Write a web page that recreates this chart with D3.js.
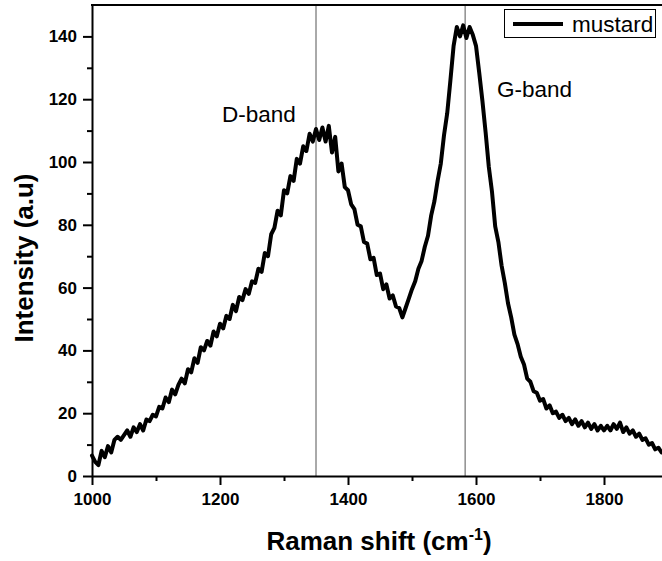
<!DOCTYPE html>
<html>
<head>
<meta charset="utf-8">
<script src="https://cdn.jsdelivr.net/npm/d3@7"></script>
<style>
  html, body { margin: 0; padding: 0; background: #fff; }
  svg { display: block; font-family: "Liberation Sans", Arial, sans-serif; }
</style>
</head>
<body>
<svg id="chart" width="662" height="561"></svg>
<script>
const ramanShift = [
  1000,1005,1010,1015,1020,1025,1030,1035,1040,1045,
  1050,1055,1060,1065,1070,1075,1080,1085,1090,1095,
  1100,1105,1110,1115,1120,1125,1130,1135,1140,1145,
  1150,1155,1160,1165,1170,1175,1180,1185,1190,1195,
  1200,1205,1210,1215,1220,1225,1230,1235,1240,1245,
  1250,1255,1260,1265,1270,1275,1280,1285,1290,1295,
  1300,1305,1310,1315,1320,1325,1330,1335,1340,1345,
  1350,1355,1360,1365,1370,1375,1380,1385,1390,1395,
  1400,1405,1410,1415,1420,1425,1430,1435,1440,1445,
  1450,1455,1460,1465,1470,1475,1480,1485,1490,1495,
  1500,1505,1510,1515,1520,1525,1530,1535,1540,1545,
  1550,1555,1560,1565,1570,1575,1580,1585,1590,1595,
  1600,1605,1610,1615,1620,1625,1630,1635,1640,1645,
  1650,1655,1660,1665,1670,1675,1680,1685,1690,1695,
  1700,1705,1710,1715,1720,1725,1730,1735,1740,1745,
  1750,1755,1760,1765,1770,1775,1780,1785,1790,1795,
  1800,1805,1810,1815,1820,1825,1830,1835,1840,1845,
  1850,1855,1860,1865,1870,1875,1880,1885,1890
];
const intensity = [
  6.5,4.5,3.5,8,6,9.5,7.5,11.5,12.5,11.5,
  13,14.5,12.5,15.5,14,16.5,14.5,18,17.5,19.5,
  19,22,21.5,25,23.5,27.5,26,29,31,29.5,
  34,33,37.5,36,41,40,43,41.5,46,44.5,
  48.5,47,51,50,54.5,52.5,57,56,59.5,58,
  62,61.5,66,65,71,70,77,79,84.5,83,
  91,90,95.5,94,101,99.5,105,103.5,109,106.5,
  110.5,107,111,106.5,111.5,103,108,97,99.5,92,
  91,86.5,85,80,79.5,74.5,74,69,69.5,64,
  64.5,59.5,61,56.5,57.5,54,53.5,50.5,53.5,56.5,
  59.5,62,66,68.5,73,76.5,83,87.5,94,99.5,
  108.5,115.5,126,137,143,140,143.5,139.5,143,140.5,
  137,128.5,119.5,109.5,98.5,90.5,79.5,74.5,67,61.5,
  55,50.5,45,42,38,35.5,31,30,27,26.5,
  24,24.5,21.5,22.5,20,20.5,18.5,19.5,17.5,18.5,
  16.5,18,16,17.5,15.5,17,15,16.5,14.5,16,
  14.5,16,14.5,16.5,15,17,14,15.5,13.5,14.5,
  12.5,13.5,11.5,12,10,10.5,8.5,9,7.5
];
const seriesName = "mustard";
const xMajorTicks = [1000, 1200, 1400, 1600, 1800];
const xMinorTicks = [1100, 1300, 1500, 1700];
const yMajorTicks = [0, 20, 40, 60, 80, 100, 120, 140];
const yMinorTicks = [10, 30, 50, 70, 90, 110, 130];
const bandPositions = [1350, 1583];
const bandLabels = ["D-band", "G-band"];
const xTitle = "Raman shift (cm";
const xTitleSup = "-1";
const yTitle = "Intensity (a.u)";

const svg = d3.select("#chart");
const pLeft = 92, pTop = 5, pBottom = 476, pRight = 661.6;

const x = d3.scaleLinear().domain([1000, 1890]).range([pLeft, pRight]);
const y = d3.scaleLinear().domain([0, 150]).range([pBottom, pTop]);

const data = ramanShift.map((v, i) => ({ v, i: intensity[i] }));

// band lines
svg.append("g").selectAll("line").data(bandPositions).join("line")
  .attr("x1", d => x(d)).attr("x2", d => x(d))
  .attr("y1", pTop).attr("y2", pBottom)
  .attr("stroke", "#555").attr("stroke-width", 1);

// curve
const line = d3.line().x(d => x(d.v)).y(d => y(d.i));
svg.append("path").datum(data)
  .attr("d", line)
  .attr("fill", "none")
  .attr("stroke", "#000")
  .attr("stroke-width", 4)
  .attr("stroke-linejoin", "round")
  .attr("stroke-linecap", "round");

// axes
function styleAxis(g) {
  g.select(".domain").attr("stroke", "#000").attr("stroke-width", 2);
  g.selectAll(".tick line").attr("stroke", "#000").attr("stroke-width", 2);
  g.selectAll("text").attr("fill", "#000")
    .style("font-family", "'Liberation Sans', Arial, sans-serif")
    .style("font-size", "17px").style("font-weight", "bold");
}

const xAxis = svg.append("g").attr("transform", `translate(0,${pBottom})`)
  .call(d3.axisBottom(x).tickValues(xMajorTicks).tickSize(9).tickPadding(8).tickSizeOuter(0).tickFormat(d3.format("d")));
styleAxis(xAxis);
const xMinor = svg.append("g").attr("transform", `translate(0,${pBottom})`)
  .call(d3.axisBottom(x).tickValues(xMinorTicks).tickSize(5).tickFormat(""));
xMinor.select(".domain").remove();
xMinor.selectAll(".tick line").attr("stroke", "#000").attr("stroke-width", 2);

const yAxis = svg.append("g").attr("transform", `translate(${pLeft},0)`)
  .call(d3.axisLeft(y).tickValues(yMajorTicks).tickSize(9).tickPadding(6).tickSizeOuter(0).tickFormat(d3.format("d")));
styleAxis(yAxis);
const yMinor = svg.append("g").attr("transform", `translate(${pLeft},0)`)
  .call(d3.axisLeft(y).tickValues(yMinorTicks).tickSize(5).tickFormat(""));
yMinor.select(".domain").remove();
yMinor.selectAll(".tick line").attr("stroke", "#000").attr("stroke-width", 2);

// top frame
svg.append("line").attr("x1", pLeft - 1).attr("x2", 662).attr("y1", pTop).attr("y2", pTop)
  .attr("stroke", "#000").attr("stroke-width", 2);

// band labels
svg.append("text").attr("x", 222).attr("y", 122).text(bandLabels[0])
  .style("font-size", "22.5px").attr("fill", "#000");
svg.append("text").attr("x", 497).attr("y", 97).text(bandLabels[1])
  .style("font-size", "22.5px").attr("fill", "#000");

// legend
const lg = svg.append("g");
lg.append("rect").attr("x", 504.5).attr("y", 9.5).attr("width", 151).attr("height", 28)
  .attr("fill", "#fff").attr("stroke", "#000").attr("stroke-width", 1);
lg.append("line").attr("x1", 513).attr("x2", 563).attr("y1", 24).attr("y2", 24)
  .attr("stroke", "#000").attr("stroke-width", 4);
lg.append("text").attr("x", 572).attr("y", 32).text(seriesName)
  .style("font-size", "22.5px").attr("fill", "#000");

// axis titles
const xt = svg.append("text").attr("x", 379).attr("y", 550).attr("text-anchor", "middle")
  .style("font-size", "26px").style("font-weight", "bold").attr("fill", "#000");
xt.append("tspan").text(xTitle);
xt.append("tspan").text(xTitleSup).attr("dy", -10).style("font-size", "16px");
xt.append("tspan").text(")").attr("dy", 10);

svg.append("text").attr("transform", "translate(33,258) rotate(-90)")
  .attr("text-anchor", "middle").text(yTitle)
  .style("font-size", "26px").style("font-weight", "bold").attr("fill", "#000");
</script>
</body>
</html>
